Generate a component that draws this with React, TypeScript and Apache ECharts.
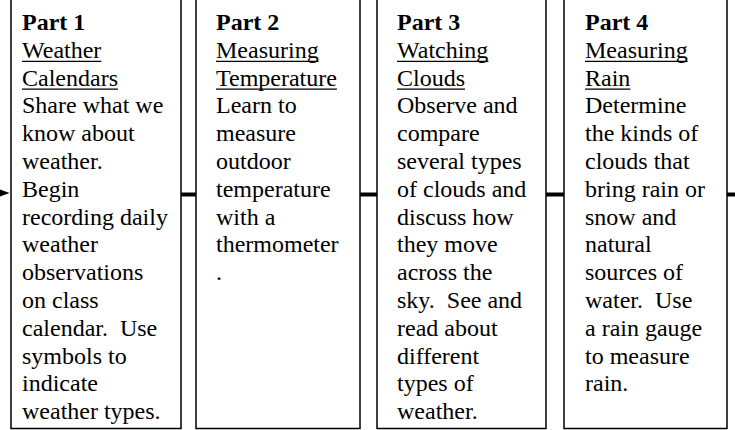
import React, { useEffect, useRef } from "react";
import * as echarts from "echarts";

// ---- content (text lines of each part) ----
const partTitles = ["Part 1", "Part 2", "Part 3", "Part 4"];
const topicLines = [
  ["Weather", "Calendars"],
  ["Measuring", "Temperature"],
  ["Watching", "Clouds"],
  ["Measuring", "Rain"],
];
const bodyLines1 = [
  "Share what we",
  "know about",
  "weather.",
  "Begin",
  "recording daily",
  "weather",
  "observations",
  "on class",
  "calendar.  Use",
  "symbols to",
  "indicate",
  "weather types.",
];
const bodyLines2 = [
  "Learn to",
  "measure",
  "outdoor",
  "temperature",
  "with a",
  "thermometer",
  ".",
];
const bodyLines3 = [
  "Observe and",
  "compare",
  "several types",
  "of clouds and",
  "discuss how",
  "they move",
  "across the",
  "sky.  See and",
  "read about",
  "different",
  "types of",
  "weather.",
];
const bodyLines4 = [
  "Determine",
  "the kinds of",
  "clouds that",
  "bring rain or",
  "snow and",
  "natural",
  "sources of",
  "water.  Use",
  "a rain gauge",
  "to measure",
  "rain.",
];
const bodyLines = [bodyLines1, bodyLines2, bodyLines3, bodyLines4];

// ---- layout ----
const W = 735;
const H = 430;
const FONT = "Liberation Serif";
const FONT_SIZE = 24;
const BOX_L = [11, 196, 377, 564];
const BOX_R = [181, 360, 546, 727];
const TEXT_X = [22, 216, 397, 585];
const BASE0 = 30;
const LINE_H = 27.8;
const MID_OFF = 8;
const BOX_BOTTOM = 428.5;
const CONN_Y = 194.5;

function measure(text: string, bold: boolean): number {
  const c = document.createElement("canvas");
  const ctx = c.getContext("2d");
  if (!ctx) return text.length * 11;
  ctx.font = `${bold ? "bold " : ""}${FONT_SIZE}px "${FONT}"`;
  return ctx.measureText(text).width;
}

function buildGraphics() {
  const els: any[] = [];
  BOX_L.forEach((l, i) => {
    els.push({
      type: "rect",
      shape: { x: l, y: -10, width: BOX_R[i] - l, height: BOX_BOTTOM + 10 },
      style: { fill: "#fff", stroke: "#000", lineWidth: 1.5 },
      z: 1,
    });
  });
  for (let i = 0; i < BOX_L.length - 1; i++) {
    els.push({
      type: "line",
      shape: { x1: BOX_R[i], y1: CONN_Y, x2: BOX_L[i + 1], y2: CONN_Y },
      style: { stroke: "#000", lineWidth: 4 },
      z: 2,
    });
  }
  els.push({
    type: "line",
    shape: { x1: BOX_R[3], y1: CONN_Y, x2: W, y2: CONN_Y },
    style: { stroke: "#000", lineWidth: 4 },
    z: 2,
  });
  els.push({
    type: "polygon",
    shape: { points: [[0, 189.5], [9.5, 193], [0, 196.5]] },
    style: { fill: "#000" },
    z: 2,
  });
  partTitles.forEach((title, i) => {
    const lines: { t: string; bold: boolean; u: boolean }[] = [];
    lines.push({ t: title, bold: true, u: false });
    topicLines[i].forEach((t) => lines.push({ t, bold: false, u: true }));
    bodyLines[i].forEach((t) => lines.push({ t, bold: false, u: false }));
    lines.forEach((ln, k) => {
      const base = BASE0 + LINE_H * k;
      els.push({
        type: "text",
        x: TEXT_X[i],
        y: base - MID_OFF,
        z: 3,
        style: {
          text: ln.t,
          fontSize: FONT_SIZE,
          fontFamily: FONT,
          fontWeight: ln.bold ? "bold" : "normal",
          fill: "#000",
          align: "left",
          verticalAlign: "middle",
        },
      });
      if (ln.u) {
        const w = measure(ln.t, false);
        els.push({
          type: "line",
          z: 3,
          shape: { x1: TEXT_X[i], y1: base + 3.5, x2: TEXT_X[i] + w, y2: base + 3.5 },
          style: { stroke: "#000", lineWidth: 1.3 },
        });
      }
    });
  });
  return els;
}

export default function App() {
  const ref = useRef<HTMLDivElement>(null);
  useEffect(() => {
    if (!ref.current) return;
    const chart = echarts.init(ref.current, undefined, { renderer: "svg" });
    chart.setOption({
      animation: false,
      backgroundColor: "#fff",
      graphic: { elements: buildGraphics() },
    });
    return () => chart.dispose();
  }, []);
  return (
    <div
      ref={ref}
      style={{ position: "fixed", left: 0, top: 0, width: W, height: H, background: "#fff" }}
    />
  );
}
